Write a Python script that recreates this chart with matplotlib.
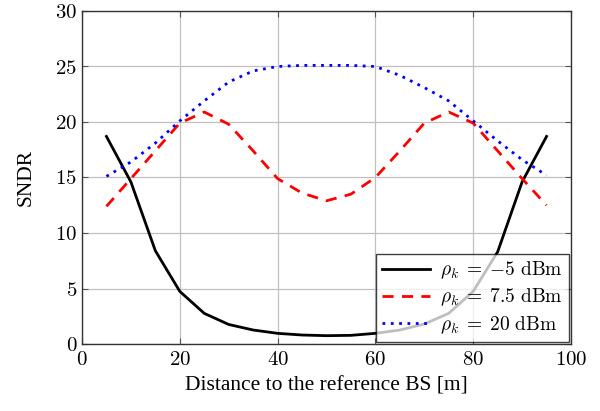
import matplotlib
matplotlib.use("Agg")
import matplotlib.pyplot as plt
from matplotlib.ticker import FuncFormatter

plt.rcParams['font.family'] = ['Liberation Serif', 'DejaVu Serif']
plt.rcParams['mathtext.fontset'] = 'cm'

distance = [5, 10, 15, 20, 25, 30, 35, 40, 45, 50, 55, 60, 65, 70, 75, 80, 85, 90, 95]
sndr_m5 = [18.7, 14.6, 8.4, 4.74, 2.76, 1.76, 1.26, 0.96, 0.81, 0.75, 0.78, 0.96, 1.26, 1.8, 2.76, 4.74, 8.3, 14.6, 18.7]
sndr_7_5 = [12.4, 14.9, 17.4, 19.9, 20.9, 19.8, 17.4, 14.9, 13.6, 12.9, 13.5, 15.0, 17.4, 19.9, 20.9, 19.9, 17.4, 14.9, 12.5]
sndr_20 = [15.1, 16.4, 18.1, 20.1, 21.9, 23.6, 24.6, 25.0, 25.1, 25.1, 25.1, 25.0, 24.2, 23.1, 21.9, 20.1, 18.3, 16.6, 15.2]
labels = [r'$\rho_k\;=\;{-}5\ \mathrm{dBm}$', r'$\rho_k\;=\;7.5\ \mathrm{dBm}$', r'$\rho_k\;=\;20\ \mathrm{dBm}$']
xticks = [0, 20, 40, 60, 80, 100]
yticks = [0, 5, 10, 15, 20, 25, 30]

fig = plt.figure(figsize=(6.0, 4.11), dpi=100)
ax = fig.add_axes([82/600, 1-344/411, (571-82)/600, (344-11)/411])

ax.plot(distance, sndr_m5, color='black', lw=2, ls='-', label=labels[0])
ax.plot(distance, sndr_7_5, color='red', lw=2, ls=(0, (4, 3)), label=labels[1])
ax.plot(distance, sndr_20, color='blue', lw=2, ls=(0, (1, 2)), label=labels[2])

ax.set_xlim(0, 100)
ax.set_ylim(0, 30)
ax.set_xticks(xticks)
ax.set_yticks(yticks)
fmt = FuncFormatter(lambda v, p: r'$%d$' % v)
ax.xaxis.set_major_formatter(fmt)
ax.yaxis.set_major_formatter(fmt)
ax.grid(True, color='#c0c0c0', lw=0.9)
ax.set_axisbelow(True)
ax.tick_params(direction='in', top=True, right=True, labelsize=15, length=4, color='#555555')
ax.tick_params(axis='x', pad=5)
for s in ax.spines.values():
    s.set_color('#333333')
    s.set_linewidth(1.0)
ax.set_xlabel('Distance to the reference BS [m]', fontsize=15.5, labelpad=5)
ax.set_ylabel('SNDR', fontsize=15.5, labelpad=14)

leg = ax.legend(loc='lower right', fontsize=14, fancybox=False, edgecolor='black',
                framealpha=0.75, borderaxespad=0.12, handlelength=2.5, labelspacing=0.3,
                handletextpad=0.5, borderpad=0.3)
leg.get_frame().set_linewidth(1.0)

fig.savefig('out.png', dpi=100)
